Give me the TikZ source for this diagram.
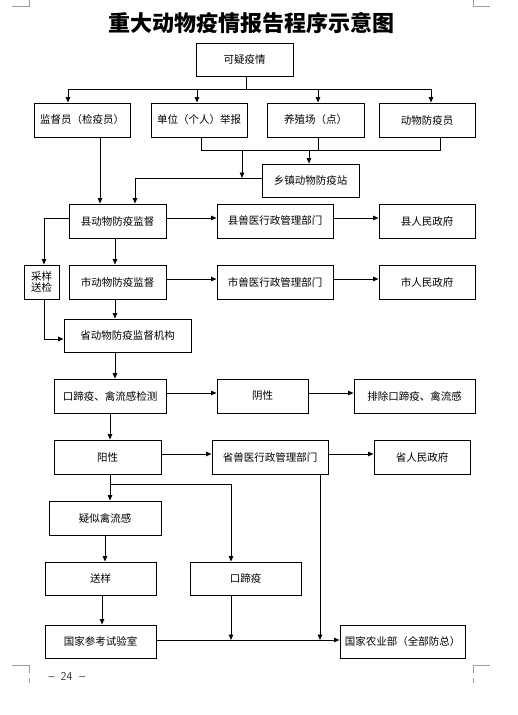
\documentclass[tikz,border=0pt]{standalone}
\usepackage{fontspec}
\newfontfamily\cjk{Noto Sans CJK SC}
\usetikzlibrary{arrows.meta}
\tikzset{
  box/.style={draw, line width=1pt, inner sep=0pt, font=\cjk\fontsize{10.5}{12}\selectfont, align=center},
  arr/.style={line width=0.9pt, -{Triangle[length=5.5pt,width=4.5pt]}},
  ln/.style={line width=0.9pt},
  crop/.style={draw=black!38, line width=0.9pt}
}
\begin{document}
\begin{tikzpicture}[x=1pt,y=-1pt]
\useasboundingbox (0,0) rectangle (518,715);
% crop marks
\draw[crop] (12,6) -- (29,6) -- (29,0);
\draw[crop] (490,6) -- (473,6) -- (473,0);
\draw[crop] (12,665) -- (29,665) -- (29,673);
\draw[crop] (29,678) -- (29,683);
\draw[crop] (490,665) -- (473,665) -- (473,673);
\draw[crop] (473,678) -- (473,683);
% title
\node[font=\cjk\bfseries\fontsize{22}{25}\selectfont] (title) at (251,23) {重大动物疫情报告程序示意图};
% page number
\node[font=\fontsize{12}{14}\selectfont\sffamily, text=black!80] (page) at (67,676) {--\hspace{6pt}24\hspace{7pt}--};
% boxes
\node[box, minimum width=97pt, minimum height=33pt] (ky) at (244.5,59.5) {可疑疫情};
\node[box, minimum width=96pt, minimum height=34pt] (jd) at (82,120) {监督员（检疫员）};
\node[box, minimum width=96pt, minimum height=34pt] (dw) at (199,120) {单位（个人）举报};
\node[box, minimum width=97pt, minimum height=34pt] (yz) at (315.5,120) {养殖场（点）};
\node[box, minimum width=96pt, minimum height=34pt] (fy) at (427,120) {动物防疫员};
\node[box, minimum width=97pt, minimum height=33pt] (xz) at (310.5,180.5) {乡镇动物防疫站};
\node[box, minimum width=97pt, minimum height=34pt] (xian) at (117.5,221) {县动物防疫监督};
\node[box, minimum width=116pt, minimum height=34pt] (xians) at (275,221) {县兽医行政管理部门};
\node[box, minimum width=96pt, minimum height=34pt] (xianz) at (427,221) {县人民政府};
\node[box, minimum width=35pt, minimum height=34pt, font=\cjk\fontsize{10.5}{11.5}\selectfont] (cy) at (41.5,282) {采样\\送检};
\node[box, minimum width=97pt, minimum height=34pt] (shi) at (117.5,282) {市动物防疫监督};
\node[box, minimum width=116pt, minimum height=34pt] (shis) at (275,282) {市兽医行政管理部门};
\node[box, minimum width=96pt, minimum height=34pt] (shiz) at (427,282) {市人民政府};
\node[box, minimum width=127pt, minimum height=33pt] (sheng) at (127.5,335.5) {省动物防疫监督机构};
\node[box, minimum width=112pt, minimum height=34pt] (jc) at (110,396) {口蹄疫、禽流感检测};
\node[box, minimum width=91pt, minimum height=34pt] (yin) at (262.5,396) {阴性};
\node[box, minimum width=121pt, minimum height=34pt] (pc) at (414.5,396) {排除口蹄疫、禽流感};
\node[box, minimum width=107pt, minimum height=34pt] (yang) at (107.5,457) {阳性};
\node[box, minimum width=116pt, minimum height=34pt] (shengs) at (270,457) {省兽医行政管理部门};
\node[box, minimum width=96pt, minimum height=34pt] (shengz) at (422,457) {省人民政府};
\node[box, minimum width=112pt, minimum height=34pt] (ys) at (105,518) {疑似禽流感};
\node[box, minimum width=111pt, minimum height=33pt] (sy) at (100.5,578.5) {送样};
\node[box, minimum width=111pt, minimum height=33pt] (kt) at (245.5,578.5) {口蹄疫};
\node[box, minimum width=111pt, minimum height=33pt] (gj) at (100.5,641.5) {国家参考试验室};
\node[box, minimum width=125pt, minimum height=33pt] (ny) at (402.5,641.5) {国家农业部（全部防总）};
% connectors: top fan-out
\coordinate (t0) at (246,89);
\coordinate (t1) at (68,89);
\coordinate (t2) at (197,89);
\coordinate (t3) at (318,89);
\coordinate (t4) at (431,89);
\draw[ln] (ky.south -| t0) -- (t0);
\draw[ln] (t1) -- (t4);
\draw[arr] (t1) -- (t1 |- jd.north);
\draw[arr] (t2) -- (t2 |- dw.north);
\draw[arr] (t3) -- (t3 |- yz.north);
\draw[arr] (t4) -- (t4 |- fy.north);
% fan-in to township
\coordinate (m1) at (201,150);
\coordinate (m2) at (318,150);
\coordinate (m3) at (440,150);
\coordinate (m4) at (242,150);
\coordinate (m5) at (309,150);
\draw[ln] (m1 |- dw.south) -- (m1) -- (m3) -- (m3 |- fy.south);
\draw[ln] (m2 |- yz.south) -- (m2);
\coordinate (xl) at (135,178);
\coordinate (xm) at (242,178);
\draw[arr] (m4) -- (xm);
\draw[arr] (m5) -- (m5 |- xz.north);
\draw[arr] (xz.west |- xl) -- (xl) -- (xl |- xian.north);
\coordinate (jx) at (100,150);
\draw[arr] (jx |- jd.south) -- (jx |- xian.north);
% county
\draw[arr] (xian.east |- 0,218) -- (xians.west |- 0,218);
\draw[arr] (xians.east |- 0,218) -- (xianz.west |- 0,218);
\coordinate (cl) at (44,218);
\draw[arr] (xian.west |- cl) -- (cl) -- (cl |- cy.north);
\coordinate (v1) at (115,0);
\draw[arr] (v1 |- xian.south) -- (v1 |- shi.north);
% city
\draw[arr] (shi.east |- 0,279) -- (shis.west |- 0,279);
\draw[arr] (shis.east |- 0,279) -- (shiz.west |- 0,279);
\draw[arr] (v1 |- shi.south) -- (v1 |- sheng.north);
\coordinate (cb) at (44,339);
\draw[arr] (cl |- cy.south) -- (cb) -- (sheng.west |- cb);
\draw[arr] (v1 |- sheng.south) -- (v1 |- jc.north);
% detection
\draw[arr] (jc.east |- 0,393) -- (yin.west |- 0,393);
\draw[arr] (yin.east |- 0,393) -- (pc.west |- 0,393);
\coordinate (v2) at (110,0);
\draw[arr] (v2 |- jc.south) -- (v2 |- yang.north);
% positive
\draw[arr] (yang.east |- 0,454) -- (shengs.west |- 0,454);
\draw[arr] (shengs.east |- 0,454) -- (shengz.west |- 0,454);
\coordinate (p1) at (110,484);
\coordinate (p2) at (231,484);
\draw[arr] (v2 |- yang.south) -- (v2 |- ys.north);
\draw[arr] (p1) -- (p2) -- (p2 |- kt.north);
\coordinate (v3) at (105,0);
\draw[arr] (v3 |- ys.south) -- (v3 |- sy.north);
\coordinate (v4) at (102,0);
\draw[arr] (v4 |- sy.south) -- (v4 |- gj.north);
\coordinate (b1) at (231,640);
\coordinate (b2) at (320,640);
\draw[arr] (p2 |- kt.south) -- (b1);
\draw[arr] (b2 |- shengs.south) -- (b2);
\draw[arr] (gj.east |- b1) -- (ny.west |- b1);
\end{tikzpicture}
\end{document}
